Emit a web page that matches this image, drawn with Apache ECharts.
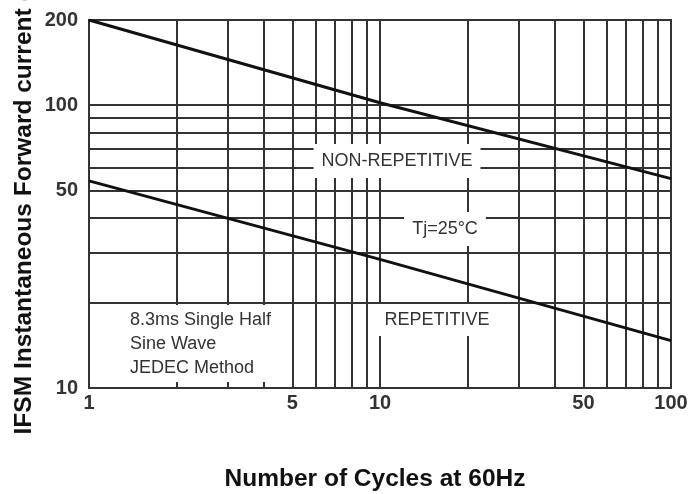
<!DOCTYPE html>
<html><head><meta charset="utf-8">
<script src="https://cdn.jsdelivr.net/npm/echarts@6/dist/echarts.min.js"></script>
<style>html,body{margin:0;padding:0;background:#fff}#c{width:699px;height:494px}</style>
</head><body><div id="c"></div>
<script>
const cycles = [1, 10, 100];
const nonRepetitive = [200, 102, 55];
const repetitive = [54, 28.5, 14.7];
const xGridValues = [2, 3, 4, 5, 6, 7, 8, 9, 10, 20, 30, 40, 50, 60, 70, 80, 90];
const yGridValues = [20, 30, 40, 50, 60, 70, 80, 90, 100];
const xTickLabels = [1, 5, 10, 50, 100];
const yTickLabels = [10, 50, 100, 200];

const FONT = "'Liberation Sans', Arial, sans-serif";
const GRID_COLOR = '#333';
const chart = echarts.init(document.getElementById('c'), null, {renderer: 'canvas'});

chart.setOption({
  animation: false,
  backgroundColor: '#fff',
  grid: {left: 89, right: 28, top: 20, bottom: 106, show: true, borderColor: GRID_COLOR, borderWidth: 2, backgroundColor: 'transparent'},
  xAxis: {
    type: 'log', logBase: 10, min: 1, max: 100,
    axisLine: {show: true, lineStyle: {color: GRID_COLOR, width: 2}},
    axisTick: {show: false, customValues: xGridValues},
    splitLine: {show: true, lineStyle: {color: GRID_COLOR, width: 2}},
    axisLabel: {customValues: xTickLabels, color: '#333', fontFamily: FONT, fontWeight: 'bold', fontSize: 20, margin: 5}
  },
  yAxis: {
    type: 'log', logBase: 10, min: 10, max: 200,
    axisLine: {show: true, lineStyle: {color: GRID_COLOR, width: 2}},
    axisTick: {show: false, customValues: yGridValues},
    splitLine: {show: true, lineStyle: {color: GRID_COLOR, width: 2}},
    axisLabel: {customValues: yTickLabels, color: '#333', fontFamily: FONT, fontWeight: 'bold', fontSize: 20, margin: 11}
  },
  series: [
    {name: 'NON-REPETITIVE', type: 'line', data: cycles.map((c, i) => [c, nonRepetitive[i]]), symbol: 'none', lineStyle: {color: '#111', width: 3}, z: 3},
    {name: 'REPETITIVE', type: 'line', data: cycles.map((c, i) => [c, repetitive[i]]), symbol: 'none', lineStyle: {color: '#111', width: 3}, z: 3}
  ],
  graphic: [
    {type: 'text', z: 100, x: 24, y: 201, rotation: Math.PI / 2,
     style: {text: 'IFSM Instantaneous Forward current (A)', fill: '#111', font: "bold 24.5px " + FONT, textAlign: 'center', textVerticalAlign: 'middle'}},
    {type: 'text', z: 100, x: 375, y: 479,
     style: {text: 'Number of Cycles at 60Hz', fill: '#111', font: "bold 24.5px " + FONT, textAlign: 'center', textVerticalAlign: 'middle'}},
    {type: 'text', z: 100, x: 397, y: 161,
     style: {text: 'NON-REPETITIVE', fill: '#333', font: "18px " + FONT, textAlign: 'center', textVerticalAlign: 'middle', backgroundColor: '#fff', padding: [8, 8, 8, 8]}},
    {type: 'text', z: 100, x: 445, y: 229,
     style: {text: 'Tj=25°C', fill: '#333', font: "18px " + FONT, textAlign: 'center', textVerticalAlign: 'middle', backgroundColor: '#fff', padding: [8, 8, 8, 8]}},
    {type: 'text', z: 100, x: 437, y: 320,
     style: {text: 'REPETITIVE', fill: '#333', font: "18px " + FONT, textAlign: 'center', textVerticalAlign: 'middle', backgroundColor: '#fff', padding: [7, 8, 7, 8]}},
    {type: 'text', z: 100, x: 120, y: 305,
     style: {text: '8.3ms Single Half\nSine Wave\nJEDEC Method', fill: '#333', font: "18px " + FONT, lineHeight: 24, textAlign: 'left', textVerticalAlign: 'top', backgroundColor: '#fff', padding: [3, 6, 2, 10]}}
  ]
});
</script></body></html>
